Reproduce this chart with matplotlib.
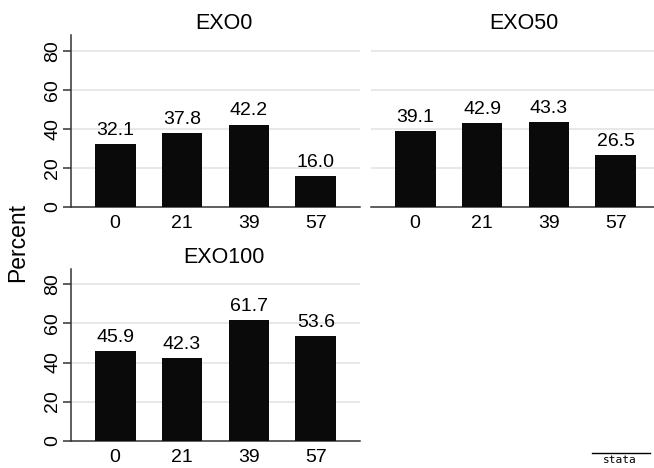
# Percent by exposure level, one panel per EXO group
import numpy as np
import matplotlib.pyplot as plt

plt.rcParams['font.family'] = ['Liberation Sans', 'DejaVu Sans']

doses = ['0', '21', '39', '57']
groups = ['EXO0', 'EXO50', 'EXO100']
exo0 = [32.1, 37.8, 42.2, 16.0]
exo50 = [39.1, 42.9, 43.3, 26.5]
exo100 = [45.9, 42.3, 61.7, 53.6]
yticks = [0, 20, 40, 60, 80]

W, H = 654, 468
fig = plt.figure(figsize=(W / 100, H / 100), dpi=100)

# panel boxes in pixels: left, bottom (y of zero line), width, height
boxes = [(71, 207, 289, 172), (371, 207, 289, 172), (71, 440.7, 289, 172)]
x = np.arange(len(doses))

for name, vals, (l, b, w, h) in zip(groups, [exo0, exo50, exo100], boxes):
    ax = fig.add_axes([l / W, 1 - b / H, w / W, h / H])
    ax.bar(x, vals, width=0.61, color='#0a0a0a', zorder=3)
    for xi, v in zip(x, vals):
        ax.annotate(f'{v:.1f}', (xi, v), xytext=(0, 6.5), textcoords='offset points',
                    ha='center', va='baseline', fontsize=14, zorder=4)
    ax.set_xlim(-0.66, 3.66)
    ax.set_ylim(0, 88)
    ax.set_yticks(yticks)
    for yv in yticks[1:]:
        ax.axhline(yv, color='#e6e6e6', lw=1.3, zorder=1)
    ax.set_xticks(x)
    ax.set_xticklabels(doses)
    ax.tick_params(axis='x', length=0, pad=6, labelsize=14)
    for s in ['top', 'right']:
        ax.spines[s].set_visible(False)
    ax.spines['bottom'].set_color('#333333')
    ax.spines['bottom'].set_linewidth(1.1)
    if name == 'EXO50':
        ax.spines['left'].set_visible(False)
        ax.tick_params(axis='y', left=False, labelleft=False)
    else:
        ax.spines['left'].set_color('#333333')
        ax.spines['left'].set_linewidth(1.1)
        ax.tick_params(axis='y', length=6, width=1.1, color='#333333', pad=1,
                       labelsize=14)
        for lab in ax.get_yticklabels():
            lab.set_rotation(90)
            lab.set_va('center')
    ax.set_title(name, fontsize=15.5, x=0.53, pad=4)

fig.text(18 / W, 1 - 242 / H, 'Percent', rotation=90, ha='center', va='center',
         fontsize=16.5)

# small logo mark in the corner
fig.text(620 / W, 1 - 460 / H, 'stata', ha='center', va='center', fontsize=8,
         family='DejaVu Sans Mono')
fig.add_artist(plt.Line2D([592 / W, 650 / W], [1 - 453 / H, 1 - 453 / H],
                          color='black', lw=1))

fig.savefig('out.png', dpi=100)
